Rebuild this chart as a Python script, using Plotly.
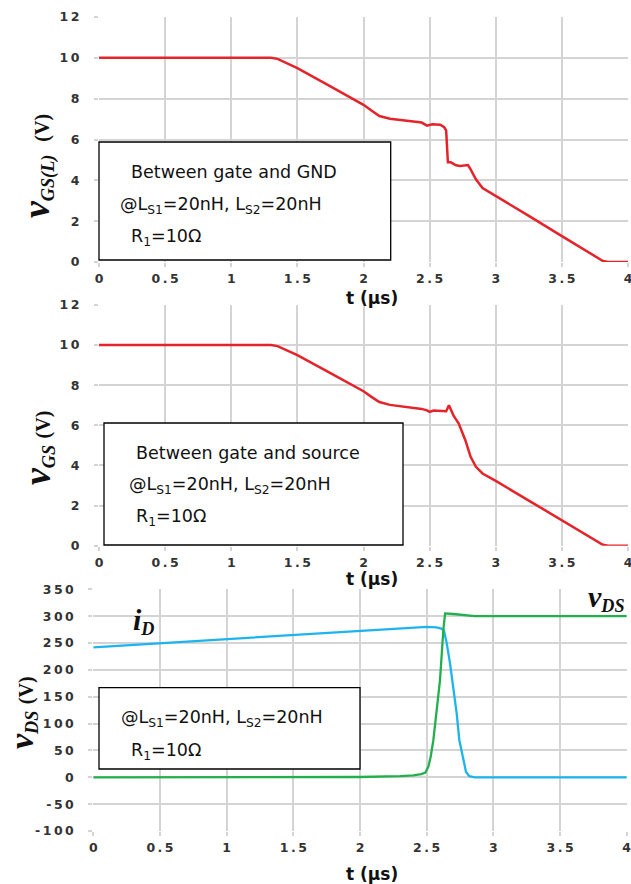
import plotly.graph_objects as go

# ---------------- data ----------------
t_gsl = [0, 1.30, 1.35, 1.40, 1.50, 1.75, 2.00, 2.06, 2.12, 2.20, 2.27, 2.35, 2.44, 2.48, 2.52, 2.58, 2.61, 2.625, 2.632, 2.638, 2.66,
         2.70, 2.73, 2.79, 2.81, 2.85, 2.90, 3.00, 3.25, 3.50, 3.75, 3.81, 3.85, 4.00]
v_gsl = [10, 10, 9.95, 9.8, 9.5, 8.6, 7.7, 7.42, 7.15, 7.02, 6.96, 6.9, 6.83, 6.68, 6.75, 6.72, 6.6, 6.45, 5.6, 4.88, 4.88,
         4.74, 4.7, 4.75, 4.54, 4.05, 3.62, 3.24, 2.26, 1.27, 0.28, 0.05, 0, 0]

t_gs = [0, 1.30, 1.35, 1.40, 1.50, 1.75, 2.00, 2.06, 2.12, 2.20, 2.27, 2.35, 2.44, 2.48, 2.50, 2.53, 2.58, 2.625, 2.646, 2.66, 2.68,
        2.72, 2.77, 2.81, 2.85, 2.90, 3.00, 3.25, 3.50, 3.75, 3.81, 3.85, 4.00]
v_gs = [10, 10, 9.95, 9.8, 9.5, 8.6, 7.7, 7.42, 7.16, 7.02, 6.96, 6.9, 6.82, 6.75, 6.67, 6.74, 6.72, 6.7, 7.0, 6.75, 6.5,
        6.09, 5.26, 4.43, 3.93, 3.6, 3.23, 2.25, 1.27, 0.28, 0.05, 0, 0]

t_id = [0, 0.5, 1.0, 1.5, 2.0, 2.3, 2.5, 2.575, 2.61, 2.63, 2.65, 2.675, 2.70, 2.725, 2.745, 2.775, 2.795, 2.82, 2.86, 4.0]
i_d = [242, 249.5, 257, 265, 273, 277, 280, 279, 277, 273, 250, 212, 165, 119, 69, 32, 10, 2, 0, 0]

t_vds = [0, 1.5, 2.0, 2.3, 2.4, 2.46, 2.49, 2.513, 2.53, 2.55, 2.575, 2.60, 2.625, 2.638, 2.70, 2.80, 2.86, 4.0]
v_ds = [0, 0, 0.5, 2, 3.5, 6, 8.6, 20, 38, 69, 120, 181, 274, 305, 304, 301, 300, 300]

x_ticks = [0, 0.5, 1, 1.5, 2, 2.5, 3, 3.5, 4]
x_ticklabels = ["0", "0.5", "1", "1.5", "2", "2.5", "3", "3.5", "4"]
vg_ticks = [0, 2, 4, 6, 8, 10, 12]
vds_ticks = [-100, -50, 0, 50, 100, 150, 200, 250, 300, 350]

# ---------------- styling ----------------
W, H = 631, 884
def px(x):
    return x / W
def py(y):
    return 1 - y / H

RED = "#e5232a"
BLUE = "#1db4ee"
GREEN = "#21b04c"
GRID = "#d4d4d4"
TICKC = "#333333"

def spaced(s):
    return "\u2009".join(s)

fig = go.Figure()
fig.add_trace(go.Scatter(x=t_gsl, y=v_gsl, mode="lines", line=dict(color=RED, width=2.5), xaxis="x", yaxis="y",
                         showlegend=False))
fig.add_trace(go.Scatter(x=t_gs, y=v_gs, mode="lines", line=dict(color=RED, width=2.5), xaxis="x2", yaxis="y2",
                         showlegend=False))
fig.add_trace(go.Scatter(x=t_id, y=i_d, mode="lines", line=dict(color=BLUE, width=2.3), xaxis="x3", yaxis="y3",
                         showlegend=False))
fig.add_trace(go.Scatter(x=t_vds, y=v_ds, mode="lines", line=dict(color=GREEN, width=2.3), xaxis="x3", yaxis="y3",
                         showlegend=False))

tickfont = dict(family="DejaVu Sans", size=12.5, color=TICKC, weight="bold")

def xaxis(dom, anchor):
    return dict(domain=dom, anchor=anchor, range=[0, 4], tickmode="array", tickvals=x_ticks,
                ticktext=[spaced(s) for s in x_ticklabels], showgrid=True, gridcolor=GRID, gridwidth=1.5,
                zeroline=False, showline=False, ticks="outside", ticklen=4, tickwidth=1.5, tickcolor=GRID,
                tickfont=tickfont, ticklabelstandoff=1, automargin=False, ticklabeloverflow="allow")

def yaxis(dom, anchor, rng, vals):
    return dict(domain=dom, anchor=anchor, range=rng, tickmode="array", tickvals=vals,
                ticktext=[spaced(str(v)) for v in vals], showgrid=True, gridcolor=GRID, gridwidth=1.5,
                zeroline=False, showline=False, ticks="outside", ticklen=4, tickwidth=1.5, tickcolor=GRID,
                tickfont=tickfont, ticklabelstandoff=12, automargin=False, ticklabeloverflow="allow")

fig.update_layout(
    width=W, height=H, margin=dict(l=0, r=0, t=0, b=0, autoexpand=False),
    paper_bgcolor="white", plot_bgcolor="white",
    xaxis=xaxis([px(99), px(628)], "y"),
    yaxis=yaxis([py(262), py(17)], "x", [0, 12], vg_ticks),
    xaxis2=xaxis([px(99), px(628)], "y2"),
    yaxis2=yaxis([py(545.7), py(305)], "x2", [0, 12], vg_ticks),
    xaxis3=xaxis([px(93.3), px(626.7)], "y3"),
    yaxis3=yaxis([py(831), py(589.3)], "x3", [-100, 350], vds_ticks),
)

# text boxes
boxes = [(99, 142, 390.7, 260), (104, 423, 403, 545), (99, 687.7, 360, 769)]
for (x0, y0, x1, y1) in boxes:
    fig.add_shape(type="rect", xref="paper", yref="paper", x0=px(x0), y0=py(y1), x1=px(x1), y1=py(y0),
                  line=dict(color="black", width=1.3), fillcolor="white", layer="above")

LS = "@L<sub>S1</sub>=20nH, L<sub>S2</sub>=20nH"
R1 = "R<sub>1</sub>=10\u03a9"
box_texts = [
    ("Between gate and GND", 129, 172), (LS, 118, 205), (R1, 129, 238),
    ("Between gate and source", 134, 453), (LS, 127, 485), (R1, 134, 517),
    (LS, 119, 718), (R1, 129, 751),
]
for txt, x, y in box_texts:
    fig.add_annotation(text=txt, xref="paper", yref="paper", x=px(x), y=py(y), xanchor="left", yanchor="middle",
                       showarrow=False, font=dict(family="DejaVu Sans", size=17.5, color="#111111"))

# x axis titles
for y in [298, 579, 874]:
    fig.add_annotation(text="t (\u03bcs)", xref="paper", yref="paper", x=px(372), y=py(y), xanchor="center",
                       yanchor="middle", showarrow=False,
                       font=dict(family="DejaVu Sans", size=17, color="#111111", weight="bold"))

# y axis titles
def ylab(sub, gap, vsize):
    return ("<b><i><span style='font-size:%dpx'>v</span><sub>" % vsize + sub + "</sub></i></b>" + gap +
            "<b><span style='font-size:20px'>(V)</span></b>")

for sub, gap, vs, x, y in [("GS(L)", "\u00a0\u00a0", 38, 37, 166), ("GS", "\u00a0", 38, 37, 448),
                           ("DS", "\u00a0", 34, 22, 713)]:
    fig.add_annotation(text=ylab(sub, gap, vs), xref="paper", yref="paper", x=px(x), y=py(y), xanchor="center",
                       yanchor="middle", textangle=-90, showarrow=False,
                       font=dict(family="Liberation Serif", size=26, color="#111111"))

# curve labels
fig.add_annotation(text="<b><i><span style='font-size:30px'>i</span><sub>D</sub></i></b>", xref="paper",
                   yref="paper", x=px(143), y=py(621), xanchor="center", yanchor="middle", showarrow=False,
                   font=dict(family="Liberation Serif", size=26, color="#111111"))
fig.add_annotation(text="<b><i><span style='font-size:30px'>v</span><sub>DS</sub></i></b>", xref="paper",
                   yref="paper", x=px(606), y=py(598), xanchor="center", yanchor="middle", showarrow=False,
                   font=dict(family="Liberation Serif", size=26, color="#111111"))

fig.write_html("out.html", config={"displayModeBar": False},
               post_script="document.body.style.margin='0';document.body.style.overflow='hidden';")
